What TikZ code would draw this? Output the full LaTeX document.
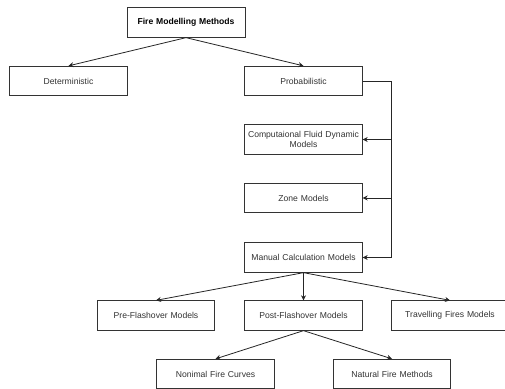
\documentclass[tikz,border=0pt]{standalone}
\usepackage{fontspec}
\setmainfont{Liberation Sans}
\usetikzlibrary{arrows.meta}
\begin{document}
\begin{tikzpicture}[x=1pt,y=-1pt,
  box/.style={draw=black!80,line width=0.8pt,minimum width=117.5pt,minimum height=29.5pt,
    inner sep=1pt,align=center,text width=115pt,font=\fontsize{8.6}{10}\selectfont,text=black!80},
  conn/.style={draw=black!85,line width=0.8pt,-{Stealth[length=5pt,width=5pt]}},
  plain/.style={draw=black!85,line width=0.8pt}]
\useasboundingbox (0,0) rectangle (505,388);
\clip (0,0) rectangle (505,388);
\fill[white] (0,0) rectangle (505,388);
\node[box,minimum width=118pt,font=\bfseries\fontsize{8.6}{10}\selectfont,text=black] (fmm) at (186,22.5) {Fire Modelling Methods};
\node[box] (det) at (68.5,81) {Deterministic};
\node[box] (prob) at (303.5,81) {Probabilistic};
\node[box] (cfd) at (303.5,139.5) {Computaional Fluid Dynamic\\Models};
\node[box] (zone) at (303.5,198) {Zone Models};
\node[box] (man) at (303.5,257.5) {Manual Calculation Models};
\node[box] (pre) at (156,315.5) {Pre-Flashover Models};
\node[box] (post) at (303.5,315.5) {Post-Flashover Models};
\node[box] (trav) at (450,315.5) {Travelling Fires Models};
\node[box] (nom) at (215.5,374) {Nonimal Fire Curves};
\node[box] (nat) at (392,374) {Natural Fire Methods};
\coordinate (bus) at (391.5,81);
\draw[conn] (fmm.south) -- (det.north);
\draw[conn] (fmm.south) -- (prob.north);
\draw[plain] (prob.east) -- (bus) -- (bus |- man.east);
\draw[conn] (bus |- cfd.east) -- (cfd.east);
\draw[conn] (bus |- zone.east) -- (zone.east);
\draw[conn] (bus |- man.east) -- (man.east);
\draw[conn] (man.south) -- (pre.north);
\draw[conn] (man.south) -- (post.north);
\draw[conn] (man.south) -- (trav.north);
\draw[conn] (post.south) -- (nom.north);
\draw[conn] (post.south) -- (nat.north);
\end{tikzpicture}
\end{document}
